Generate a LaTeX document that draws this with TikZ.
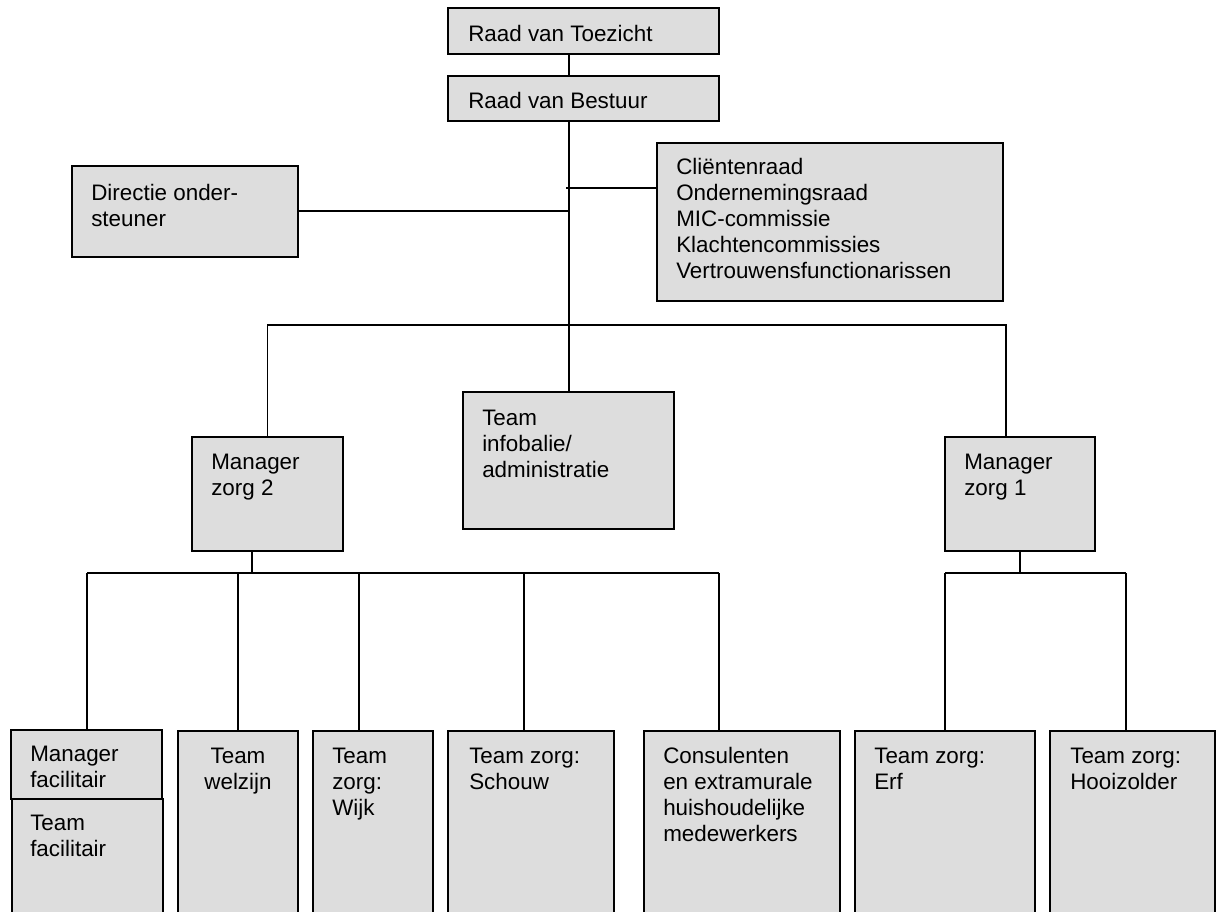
\documentclass[tikz,border=0pt]{standalone}
\usepackage{fontspec}
\setmainfont{Liberation Sans}
\usetikzlibrary{fit}
\definecolor{boxfill}{RGB}{221,221,221}
\begin{document}
\begin{tikzpicture}[x=0.75pt,y=-0.75pt,
  box/.style={draw=black, line width=1.3pt, fill=boxfill, inner sep=0pt},
  txt/.style={anchor=base west, inner sep=0pt, align=left, font=\fontsize{16.8}{19.5}\selectfont},
  ctxt/.style={anchor=base, inner sep=0pt, align=center, font=\fontsize{16.8}{19.5}\selectfont},
  wire/.style={line width=1.1pt}]
\path[use as bounding box] (0,0) rectangle (1216,911);
\clip (0,0) rectangle (1216,911);
% boxes
\node[box, fit={(448,8) (719,54)}] (rvt) {};
\node[box, fit={(448,76) (719,121)}] (rvb) {};
\node[box, fit={(72,166) (298,257)}] (dir) {};
\node[box, fit={(657,143) (1003,301)}] (cli) {};
\node[box, fit={(192,437) (343,551)}] (mz2) {};
\node[box, fit={(463,392) (674,529)}] (info) {};
\node[box, fit={(945,437) (1095,551)}] (mz1) {};
\node[box, fit={(11,730) (162,799)}] (mf) {};
\node[box, fit={(12,799) (163,920)}] (tf) {};
\node[box, fit={(178,731) (298,920)}] (tw) {};
\node[box, fit={(313,731) (433,920)}] (tzw) {};
\node[box, fit={(448,731) (614,920)}] (tzs) {};
\node[box, fit={(644,731) (840,920)}] (con) {};
\node[box, fit={(855,731) (1035,920)}] (erf) {};
\node[box, fit={(1050,731) (1215,920)}] (hooi) {};
% texts (base anchor = baseline of the last line; lines are 26 units apart)
\node[txt] (rvt-t) at (468,41) {Raad van Toezicht};
\node[txt] (rvb-t) at (468,108) {Raad van Bestuur};
\node[txt] (dir-t) at (91,226) {Directie onder-\\steuner};
\node[txt] (cli-t) at (676,278) {Cliëntenraad\\Ondernemingsraad\\MIC-commissie\\Klachtencommissies\\Vertrouwensfunctionarissen};
\node[txt] (mz2-t) at (211,495) {Manager\\zorg 2};
\node[txt] (info-t) at (482,477) {Team\\infobalie/\\administratie};
\node[txt] (mz1-t) at (964,495) {Manager\\zorg 1};
\node[txt] (mf-t) at (30,787) {Manager\\facilitair};
\node[txt] (tf-t) at (30,856) {Team\\facilitair};
\node[ctxt] (tw-t) at (238,789) {Team\\welzijn};
\node[txt] (tzw-t) at (332,815) {Team\\zorg:\\Wijk};
\node[txt] (tzs-t) at (469,789) {Team zorg:\\Schouw};
\node[txt] (con-t) at (663,841) {Consulenten\\en extramurale\\huishoudelijke\\medewerkers};
\node[txt] (erf-t) at (874,789) {Team zorg:\\Erf};
\node[txt] (hooi-t) at (1070,789) {Team zorg:\\Hooizolder};
% junctions
\coordinate (jc) at (569,188);
\coordinate (jd) at (569,211);
\coordinate (j1) at (569,325);
\coordinate (bL) at (267.5,325);
\coordinate (bR) at (1006,325);
\coordinate (j2) at (252,573);
\coordinate (j3) at (1020,573);
\coordinate (d1) at (87,573);
\coordinate (d2) at (238,573);
\coordinate (d3) at (359,573);
\coordinate (d4) at (524,573);
\coordinate (d5) at (719,573);
\coordinate (e1) at (945,573);
\coordinate (e2) at (1126,573);
% connectors
\draw[wire] (rvt.south -| j1) -- (rvb.north -| j1);
\draw[wire] (rvb.south -| j1) -- (info.north -| j1);
\draw[wire] ([xshift=-2.25pt]jc) -- (cli.west |- jc);
\draw[wire] (dir.east |- jd) -- (jd);
\draw[wire] (mz2.north -| bL) -- (bL) -- (bR) -- (mz1.north -| bR);
\draw[wire] (mz2.south -| j2) -- (j2);
\draw[wire] (d1) -- (d5);
\draw[wire] (d1) -- (mf.north -| d1);
\draw[wire] (d2) -- (tw.north -| d2);
\draw[wire] (d3) -- (tzw.north -| d3);
\draw[wire] (d4) -- (tzs.north -| d4);
\draw[wire] (d5) -- (con.north -| d5);
\draw[wire] (mz1.south -| j3) -- (j3);
\draw[wire] (e1) -- (e2);
\draw[wire] (e1) -- (erf.north -| e1);
\draw[wire] (e2) -- (hooi.north -| e2);
\end{tikzpicture}
\end{document}
